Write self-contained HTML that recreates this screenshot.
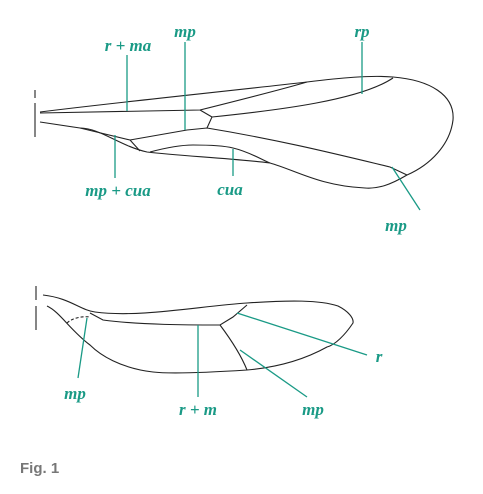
<!DOCTYPE html>
<html><head><meta charset="utf-8"><style>
html,body{margin:0;padding:0;background:#fff}
svg{display:block}
.w{fill:none;stroke:#222;stroke-width:1.1}
.l{stroke:#1a9a86;stroke-width:1.3;fill:none}
.t{font-family:"Liberation Serif",serif;font-style:italic;font-weight:bold;font-size:17px;fill:#1a9a86;text-anchor:middle}
</style></head><body>
<svg width="483" height="494" viewBox="0 0 483 494">
<g>
<line class="w" x1="35" y1="90" x2="35" y2="98"/><line class="w" x1="35" y1="103" x2="35" y2="137"/>
<path class="w" d="M40,112 C120,102 220,92 307,82 C340,78 370,75 393,77 C430,80 455,95 453,120 C450,145 430,165 407,175 C390,185 378,189 365,188 C320,186 295,170 270,163 C230,158 180,156 147,152 C120,146 100,128 80,128 L40,122"/>
<path class="w" d="M40,113 C100,112 150,111 200,110 C240,100 280,90 307,82"/>
<path class="w" d="M200,110 L212,117 L207,128 M212,117 C280,110 360,100 393,78"/>
<path class="w" d="M80,128 L130,140 L140,151 M130,140 L187,130 L207,128 C280,140 340,155 390,167 L407,175"/>
<path class="w" d="M150,152 C165,148 180,145 193,145 C215,145 225,146 233,148 C250,152 262,160 270,163"/>
</g>
<g>
<line class="w" x1="36" y1="286" x2="36" y2="300"/><line class="w" x1="36" y1="306" x2="36" y2="330"/>
<path class="w" d="M43,295 C70,298 80,310 95,312 C140,318 200,306 247,303 C290,300 320,300 338,306 C348,311 354,318 353,323 C345,335 335,345 327,347 C300,362 270,368 247,370 C200,373 170,374 153,372 C120,368 100,355 90,345 C70,330 60,312 47,306"/>
<path class="w" d="M90,313 L103,320 C140,325 190,325 220,325 L233,317 L247,305"/>
<path class="w" d="M220,325 C235,345 243,360 247,370"/>
<path class="w" stroke-dasharray="3,2" d="M67,323 C72,318 82,316 90,317"/>
</g>
<g>
<line class="l" x1="127" y1="55" x2="127" y2="111"/><text class="t" x="128" y="51">r + ma</text>
<line class="l" x1="185" y1="42" x2="185" y2="130"/><text class="t" x="185" y="37">mp</text>
<line class="l" x1="362" y1="42" x2="362" y2="94"/><text class="t" x="362" y="37">rp</text>
<line class="l" x1="115" y1="135" x2="115" y2="178"/><text class="t" x="118" y="196">mp + cua</text>
<line class="l" x1="233" y1="149" x2="233" y2="176"/><text class="t" x="230" y="195">cua</text>
<line class="l" x1="392" y1="167" x2="420" y2="210"/><text class="t" x="396" y="231">mp</text>
<line class="l" x1="87" y1="318" x2="78" y2="378"/><text class="t" x="75" y="399">mp</text>
<line class="l" x1="198" y1="325" x2="198" y2="397"/><text class="t" x="198" y="415">r + m</text>
<line class="l" x1="237" y1="313" x2="367" y2="355"/><text class="t" x="379" y="362">r</text>
<line class="l" x1="240" y1="350" x2="307" y2="397"/><text class="t" x="313" y="415">mp</text>
</g>
<text x="20" y="473" font-family="Liberation Sans,sans-serif" font-size="15" font-weight="bold" fill="#777">Fig. 1</text>
</svg>
</body></html>
